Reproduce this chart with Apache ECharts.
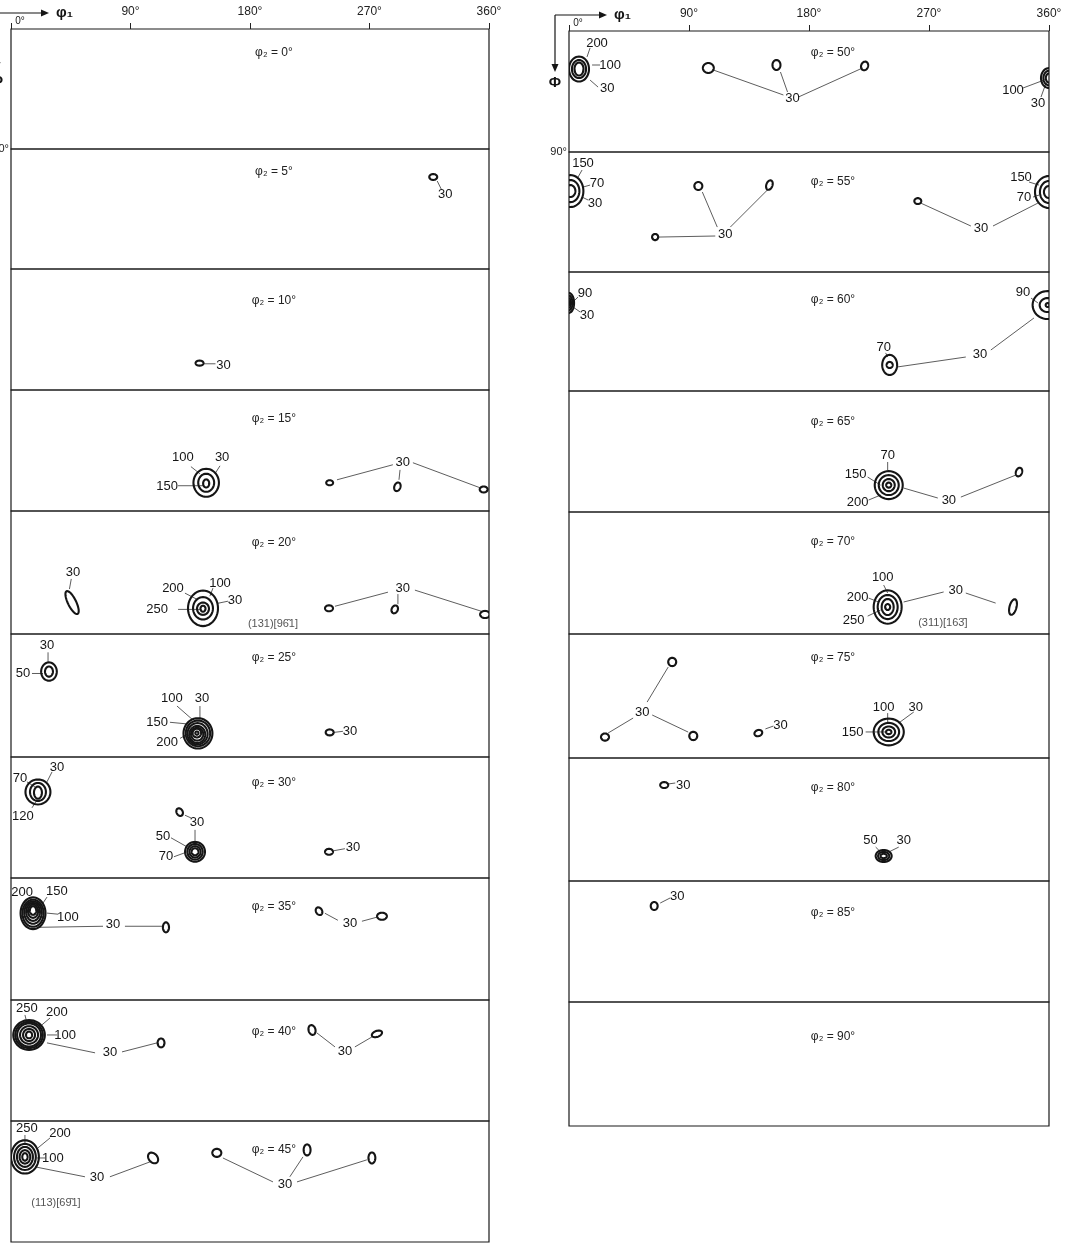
<!DOCTYPE html>
<html><head><meta charset="utf-8">
<script src="https://cdn.jsdelivr.net/npm/echarts@6/dist/echarts.min.js"></script>
<style>html,body{margin:0;padding:0;background:#fff}#c{width:1080px;height:1251px}</style>
</head><body><div id="c"></div>
<script>
// ---------------- DATA ----------------
// ODF sections: phi2 values (one panel each)
const PHI2 = [0,5,10,15,20,25,30,35,40,45,50,55,60,65,70,75,80,85,90];
const PHI1_TICKS = [0,90,180,270,360];
// contour rings: [phi2, level, phi1, Phi, halfWidth(deg), halfHeight(deg), tilt(deg)]
const RINGS = [
 [5,30,318,21,3,2.2,0],
 [10,30,142,70,3,1.9,0],
 [15,30,147,69,9.6,10.4,0],[15,100,147,69,6,6.7,0],[15,150,147,69.5,2.3,3,0],
 [15,30,240,69,2.6,1.9,0],[15,30,291,72,2.3,3.3,20],[15,30,356,74,3,2.2,0],
 [20,30,46,67,9.5,3,64],
 [20,30,144.6,71.2,11.3,13,0],[20,100,144.6,71.2,7.5,8.2,0],[20,200,144.6,71.5,4.5,4.5,0],[20,250,144.6,71.5,1.9,2.2,0],
 [20,30,239.5,71.2,3,2.2,0],[20,30,289,72,2.3,3,25],[20,30,357,75.7,3.7,2.6,0],
 [25,30,28.6,27.5,5.9,6.7,0],[25,50,28.6,27.5,3,3.7,0],
 [25,30,140.8,72.7,10.9,11.1,0],[25,50,140.8,72.7,9.2,9.4,0],[25,70,140.5,73,7.6,7.8,0],[25,100,140.3,73.5,6,6.2,0],[25,120,140.2,73.3,4.6,4.7,0],[25,150,140,72.5,3.2,3.2,0],[25,200,140,72.5,1.2,1.2,0],
 [25,30,240,72,3,2.2,0],
 [30,30,20.3,26,9.4,9.3,0],[30,70,20.3,26,6,6.7,0],[30,120,20.3,26.5,3,4.5,0],
 [30,30,127,41,2.3,3,-30],
 [30,30,138.6,70.5,7.5,7.4,0],[30,50,138.6,70.5,5.8,5.8,0],[30,60,138.6,70.5,4.2,4.2,0],[30,70,138.6,70.5,2.6,2.6,0],
 [30,30,239.5,70.5,3,2.2,0],
 [35,30,16.6,26,9.4,11.7,0],[35,50,16.6,26,8,10,0],[35,70,16.6,25.5,6.6,8.3,0],[35,100,16.6,25,5.2,6.6,0],[35,150,16.6,24.5,3.8,4.9,0],[35,200,16.6,24,2.4,3.2,0],
 [35,30,116.7,36.4,2.3,3.7,0],[35,30,232,24.5,2.3,3,-30],[35,30,279.4,28.2,3.7,2.6,0],
 [40,30,13.6,26,11.9,11.1,0],[40,50,13.6,26,10.4,9.8,0],[40,100,13.6,26,9,8.6,0],[40,150,13.6,26,6.8,6.5,0],[40,200,13.6,26,4.5,4.5,0],[40,250,13.6,26,2.3,2.5,0],
 [40,30,113,31.9,2.6,3.3,0],[40,30,226.7,22.3,2.6,3.7,-15],[40,30,275.6,25.2,4,2.2,-20],
 [45,30,10.5,26.7,10.5,12.4,0],[45,100,10.5,26.7,8.2,9.7,0],[45,150,10.5,26.7,6,7.4,0],[45,200,10.5,26.7,4,5,0],[45,250,10.5,26.7,2,2.8,0],
 [45,30,107,27.5,4.5,3.2,50],[45,30,155,23.7,3.4,3,0],[45,30,223,21.5,2.6,4.1,0],[45,30,271.8,27.5,2.6,4.1,0],
 [50,30,7.5,28.3,7.5,9.3,0],[50,100,7.5,28.3,5.3,6.7,0],[50,200,7.5,28.3,3.4,4.8,0],
 [50,30,104.5,27.5,4.1,3.7,0],[50,30,155.6,25.3,3,3.7,0],[50,30,221.7,26,2.6,3.3,20],
 [50,30,360,35,6,7.4,0],[50,100,360,35,4.2,5.4,0],[50,150,360,35,2.4,3.4,0],
 [55,30,1,29.3,9.8,12,0],[55,70,1,29.3,6.8,8.3,0],[55,150,1,29.3,3.8,4.5,0],
 [55,30,97,25.5,3,3,0],[55,30,150.3,24.8,2.3,3.7,20],[55,30,64.6,63.8,2.3,2.3,0],[55,30,261.6,36.8,2.6,2.2,0],
 [55,30,360,30,10.5,12,0],[55,70,360,30,6.8,8.3,0],[55,150,360,30,3.8,4.5,0],
 [60,30,0,23.4,3.8,7.5,0],[60,50,0,23.4,2.6,5.5,0],[60,70,0,23.4,1.5,3.5,0],[60,90,0,23.4,0.6,1.5,0],
 [60,30,359,25,11.3,10.6,0],[60,90,359,25,6,5.3,0],[60,100,359,25,1.5,1.5,0],
 [60,30,240.5,70.3,5.6,7.6,0],[60,70,240.5,70.3,2.3,2.3,0],
 [65,30,239.8,70,10.5,10.4,0],[65,70,239.8,70,7.5,7.4,0],[65,150,239.8,70,4.5,4.5,0],[65,200,239.8,70,1.9,1.9,0],
 [65,30,337.5,60.3,2.3,3.3,20],
 [70,30,239,70.1,10.5,12.3,0],[70,100,239,70.1,7.5,8.9,0],[70,200,239,70.1,4.5,5.9,0],[70,250,239,70.1,1.9,2.2,0],
 [70,30,333,70.1,2.6,5.9,15],
 [75,30,77.4,20.3,3,3,0],[75,30,27,74.8,3,2.6,0],[75,30,93.2,74,3,3,0],[75,30,142,71.9,3,2.2,-20],
 [75,30,239.8,71.1,11.3,9.7,0],[75,100,239.8,71.1,7.8,6.6,0],[75,120,239.8,71.1,4.8,4,0],[75,150,239.8,71.1,2,1.6,0],
 [80,30,71.4,19.8,3,2.2,0],
 [80,30,236,71.7,6,4.4,0],[80,50,236,71.7,4.2,3,0],[80,70,236,71.7,2.4,1.6,0],
 [85,30,63.9,18.6,2.6,3,0]
];
// contour level labels: [phi2, text, phi1, Phi]
const LABELS = [
 [5,'30',327,34],
 [10,'30',160,72],
 [15,'100',129.5,50.5],[15,'30',159,50.5],[15,'150',117.5,72],[15,'30',295,54],
 [20,'30',46.7,45.3],[20,'200',122,56.4],[20,'100',157.4,52.7],[20,'30',168.7,65.3],[20,'250',110,72],[20,'30',295,56.4],
 [25,'30',27.1,8.2],[25,'50',9,28.9],[25,'100',121.2,47.5],[25,'30',143.8,47.5],[25,'150',110,64.6],[25,'200',117.5,79.4],[25,'30',255.3,71.2],
 [30,'30',34.6,7.4],[30,'70',6.8,15.6],[30,'120',9,44.5],[30,'30',140,49],[30,'50',114.5,59.4],[30,'70',116.7,74.2],[30,'30',257.5,67.5],
 [35,'200',8.3,10.4],[35,'150',34.6,9.6],[35,'100',42.9,28.9],[35,'30',76.8,34.1],[35,'30',255.3,33.4],
 [40,'250',12,5.9],[40,'200',34.6,8.9],[40,'100',40.7,26],[40,'30',74.5,39.3],[40,'30',251.5,38.6],
 [45,'250',12,5.2],[45,'200',36.9,8.9],[45,'100',31.6,27.5],[45,'30',64.8,42.3],[45,'30',206.3,47.5],
 [50,'200',21,8.9],[50,'100',30.8,25.3],[50,'30',28.6,42.4],[50,'30',167.6,49.8],[50,'100',333,43.9],[50,'30',351.7,53.6],
 [55,'150',10.5,8.3],[55,'70',21,23.3],[55,'30',19.5,38.3],[55,'30',117.2,61.5],[55,'30',309,57],[55,'150',339,18.8],[55,'70',341.2,33.8],
 [60,'90',12,15.9],[60,'30',13.5,32.5],[60,'90',340.5,15.1],[60,'70',236,56.7],[60,'30',308.2,62.7],
 [65,'70',239,47.6],[65,'150',215,61.8],[65,'200',216.5,82.6],[65,'30',284.9,81.1],
 [70,'100',235.3,48],[70,'200',216.5,62.7],[70,'250',213.5,79.7],[70,'30',290,57.6],
 [75,'30',54.9,56.6],[75,'30',158.6,66],[75,'100',236,53],[75,'30',260,53],[75,'150',212.7,71.1],
 [80,'30',85.7,19.8],[80,'50',226.2,60],[80,'30',251,60],
 [85,'30',81.2,11.2]
];
// leader lines from label to contour: [phi2, phi1A, PhiA, phi1B, PhiB]
const LEADERS = [
 [5,321,24,324,30],
 [10,145,70.5,154,70.5],
 [15,135.5,57,142.3,62.3],[15,157.4,56.4,153.6,62.3],[15,125.8,71.2,145.3,71.2],[15,287.6,55.6,245.5,66.8],[15,293,59.4,292.2,66.8],[15,302.7,54.1,353.2,72.7],
 [20,45.4,49.7,44,57.1],[20,131,60.1,140,64.6],[20,152.1,56.4,149.8,62.3],[20,163.4,66,155.9,67.5],[20,125.8,72,142.3,72],[20,283.9,59.4,244,69.7],[20,291.4,60.8,291.4,68.2],[20,304.2,57.9,354.7,73.5],
 [25,27.9,13.4,27.9,20.8],[25,15.8,28.9,24.1,28.9],[25,125,52.7,136.3,62.3],[25,142.3,52.7,142.3,62.3],[25,119.7,64.6,134.8,66],[25,127.3,76.4,132.5,73.5],[25,243.2,72,250,71.2],
 [30,30.9,11.1,27.1,18.5],[30,12,18.5,18.1,22.3],[30,15.8,37.8,19.6,31.9],[30,131,43.3,135.5,45.3],[30,120.5,60.1,132.5,66.8],[30,122.7,74.2,131,71.2],[30,138.6,54.2,138.6,62.3],[30,243.2,69.7,251.5,68.2],
 [35,15.1,14.1,15.1,17.8],[35,27.1,14.1,24.1,18.5],[35,35.4,26.7,27.1,25.9],[35,19.6,36.4,69.3,35.6],[35,85.8,35.6,113.7,35.6],[35,236.4,26,246.2,31.2],[35,264.3,31.9,275.6,28.9],
 [40,10.5,11.1,12,17.1],[40,29.4,13.4,23.3,18.5],[40,34.6,26,27.1,26],[40,27.1,31.9,63.3,39.3],[40,83.6,38.6,110,31.9],[40,230.4,24.5,244,34.9],[40,259,34.9,271.8,27.5],
 [45,10.5,10.4,10.5,16.3],[45,29.4,12.6,20.3,20],[45,25.6,27.5,19.6,27.5],[45,18.1,34.1,55.7,41.5],[45,74.5,41.5,104.7,30.4],[45,197.3,45.3,159.6,27.5],[45,210,41.5,219.9,26.7],[45,215.4,45.3,268,28.9],
 [50,15.8,12.6,13.5,19.3],[50,23.3,25.3,17.3,25.3],[50,21.8,41.7,15.8,36.5],[50,160.8,47.6,108.2,29],[50,163.9,45.4,158.6,30.5],[50,172.1,49.1,220.2,27.5],[50,340.5,42.4,356.3,36.5],[50,354,49.1,357.8,38.7],
 [55,9.8,13.5,6.8,18.8],[55,15.8,24.8,10.5,26.3],[55,14.3,36,9.8,33.8],[55,111.2,56.3,100,30],[55,121,56.3,148.8,28.5],[55,109.7,63,66.9,63.8],[55,301.4,55.5,263.8,38.3],[55,318,55.5,351.7,38.3],[55,345,22.5,352.5,24.8],[55,348,33.8,352.5,32.3],
 [60,6.8,18.9,3,22.7],[60,8.3,30.2,3,26.5],[60,346.5,19.7,351.7,23.4],[60,237.5,61.2,239,64.3],[60,246.5,71.8,297.6,64.3],[60,316.4,59,348.7,34.8],
 [65,239,52.8,239,58.8],[65,224,64,233.7,70],[65,224.7,81.1,233.7,77.4],[65,251,72.2,276.6,79.6],[65,293.9,78.9,335.2,62.5],
 [70,236,53.9,239,59.8],[70,224.7,63.5,232.2,66.4],[70,224,76.8,233.7,72.3],[70,251,66.4,281,59],[70,297.6,59.8,320,67.2],
 [75,58.6,49.4,74.4,24],[75,48.1,61,29.3,71.9],[75,62.4,58.8,89.4,71.2],[75,147.3,68.9,153.3,66.8],[75,239,57.4,239,64.6],[75,258.6,56.6,247.3,64.6],[75,222.5,71.1,237.5,71.1],
 [80,74.4,19,79.7,18.3],[80,230,65.2,233.7,68.8],[80,247.3,65.2,239.8,68.8],
 [85,68.4,16.4,75.9,12.6]
];
// orientation notes: [phi2, text, phi1, Phi]
const NOTES = [
 [20,'(131)[96\u03041]',197.3,82.4],
 [45,'(113)[69\u03041]',33.9,60.8],
 [70,'(311)[163\u0304]',280.4,81.9]
];

// ---------------- LAYOUT ----------------
const COLS = [
 {left:11, width:478, tops:[29,149,269,390,511,634,757,878,1000,1121], bottom:1242},
 {left:569, width:480, tops:[31,152,272,391,512,634,758,881,1002], bottom:1126}
];
const TITLE_DY = [24,23,32,29,32,24,26,29,32,29, 22,30,28,31,30,24,30,32,35];
const FONT = '"Liberation Sans Narrow","Liberation Sans","DejaVu Sans",sans-serif';
const INK = '#151515';

const chart = echarts.init(document.getElementById('c'), null, {renderer:'canvas', width:1080, height:1251});

function ringItem(params, api){
  const c = api.coord([api.value(0), api.value(1)]);
  const s = api.size([api.value(2), api.value(3)]);
  const rx = Math.abs(s[0]), ry = Math.abs(s[1]), th = api.value(4)*Math.PI/180;
  const pts = [], n = 44;
  for (let k=0;k<n;k++){
    const t = 2*Math.PI*k/n, ex = rx*Math.cos(t), ey = ry*Math.sin(t);
    pts.push([c[0]+ex*Math.cos(th)-ey*Math.sin(th), c[1]+ex*Math.sin(th)+ey*Math.cos(th)]);
  }
  return {type:'polygon', shape:{points:pts}, style:{fill:'none', stroke:INK, lineWidth:2.1}};
}
function leaderItem(params, api){
  const a = api.coord([api.value(0), api.value(1)]);
  const b = api.coord([api.value(2), api.value(3)]);
  return {type:'line', shape:{x1:a[0],y1:a[1],x2:b[0],y2:b[1]}, style:{stroke:'#333', lineWidth:0.8}};
}
function textMaker(texts, size, color){
  return function(params, api){
    const c = api.coord([api.value(0), api.value(1)]);
    return {type:'text', x:c[0], y:c[1], style:{text:texts[params.dataIndex], fill:color,
      font: size+'px '+FONT, textAlign:'center', textVerticalAlign:'middle', align:'center', verticalAlign:'middle'}};
  };
}

const grids=[], xAxes=[], yAxes=[], series=[], graphics=[];
PHI2.forEach((p2,i)=>{
  const col = i<10?0:1, row = i<10?i:i-10, C = COLS[col];
  const top = C.tops[row], bottom = row+1<C.tops.length ? C.tops[row+1] : C.bottom;
  const first = row===0;
  grids.push({left:C.left, top:top, width:C.width, height:bottom-top, show:true, containLabel:false,
    outerBoundsMode:'none',
    borderColor:'#1a1a1a', borderWidth:1.2, backgroundColor:'transparent'});
  xAxes.push({gridIndex:i, type:'value', min:PHI1_TICKS[0], max:PHI1_TICKS[PHI1_TICKS.length-1], interval:90,
    position:'top', show:first,
    axisLine:{show:false}, axisTick:{show:true, inside:false, length:6, lineStyle:{color:'#222', width:1}},
    axisLabel:{show:true, margin:11, color:'#222', fontSize:12, fontFamily:FONT, showMaxLabel:true, showMinLabel:true,
      formatter:v=> v===0?'':v+'°'},
    splitLine:{show:false}});
  yAxes.push({gridIndex:i, type:'value', min:0, max:90, interval:90, inverse:true, show:first,
    axisLine:{show:false}, axisTick:{show:false},
    axisLabel:{show:true, margin:2, fontSize:11, fontFamily:FONT, color:'#222', showMaxLabel:true,
      formatter:v=> v===90?'90°':''},
    splitLine:{show:false}});
  const ld = LEADERS.filter(r=>r[0]===p2).map(r=>[r[1],r[2],r[3],r[4]]);
  series.push({type:'custom', xAxisIndex:i, yAxisIndex:i, renderItem:leaderItem, data:ld,
    encode:{x:[0,2], y:[1,3]}, clip:true, silent:true, z:2});
  const rg = RINGS.filter(r=>r[0]===p2).map(r=>[r[2],r[3],r[4],r[5],r[6]]);
  series.push({type:'custom', xAxisIndex:i, yAxisIndex:i, renderItem:ringItem, data:rg,
    encode:{x:0, y:1}, clip:true, silent:true, z:3});
  const lb = LABELS.filter(r=>r[0]===p2);
  series.push({type:'custom', xAxisIndex:i, yAxisIndex:i, renderItem:textMaker(lb.map(r=>r[1]),13,INK),
    data:lb.map(r=>[r[2],r[3]]), encode:{x:0,y:1}, silent:true, z:4});
  const nt = NOTES.filter(r=>r[0]===p2);
  series.push({type:'custom', xAxisIndex:i, yAxisIndex:i, renderItem:textMaker(nt.map(r=>r[1]),11,'#555'),
    data:nt.map(r=>[r[2],r[3]]), encode:{x:0,y:1}, silent:true, z:4});
  graphics.push({type:'text', x:C.left+0.55*C.width, y:top+TITLE_DY[i], silent:true,
    style:{text:'φ₂ = '+p2+'°', fill:'#222', font:'12px '+FONT, textAlign:'center', textVerticalAlign:'middle', align:'center', verticalAlign:'middle'}});
});
COLS.forEach(C=>{
  const t0 = C.tops[0], cx = C.left-14, ay = t0-16;
  graphics.push({type:'line', silent:true, shape:{x1:cx,y1:ay,x2:C.left+31,y2:ay}, style:{stroke:INK,lineWidth:1.2}});
  graphics.push({type:'polygon', silent:true, shape:{points:[[C.left+38,ay],[C.left+30,ay-3.5],[C.left+30,ay+3.5]]}, style:{fill:INK}});
  graphics.push({type:'line', silent:true, shape:{x1:cx,y1:ay,x2:cx,y2:t0+34}, style:{stroke:INK,lineWidth:1.2}});
  graphics.push({type:'polygon', silent:true, shape:{points:[[cx,t0+41],[cx-3.5,t0+33],[cx+3.5,t0+33]]}, style:{fill:INK}});
  graphics.push({type:'text', silent:true, x:C.left+45, y:ay, style:{text:'φ₁', fill:INK, font:'bold 15px '+FONT, textAlign:'left', textVerticalAlign:'middle', align:'left', verticalAlign:'middle'}});
  graphics.push({type:'text', silent:true, x:cx, y:t0+52, style:{text:'Φ', fill:INK, font:'bold 15px '+FONT, textAlign:'center', textVerticalAlign:'middle', align:'center', verticalAlign:'middle'}});
  graphics.push({type:'text', silent:true, x:C.left+9, y:t0-8, style:{text:'0°', fill:'#222', font:'10px '+FONT, textAlign:'center', textVerticalAlign:'middle', align:'center', verticalAlign:'middle'}});
});

chart.setOption({animation:false, backgroundColor:'#fff', grid:grids, xAxis:xAxes, yAxis:yAxes, series:series, graphic:graphics});
</script></body></html>
